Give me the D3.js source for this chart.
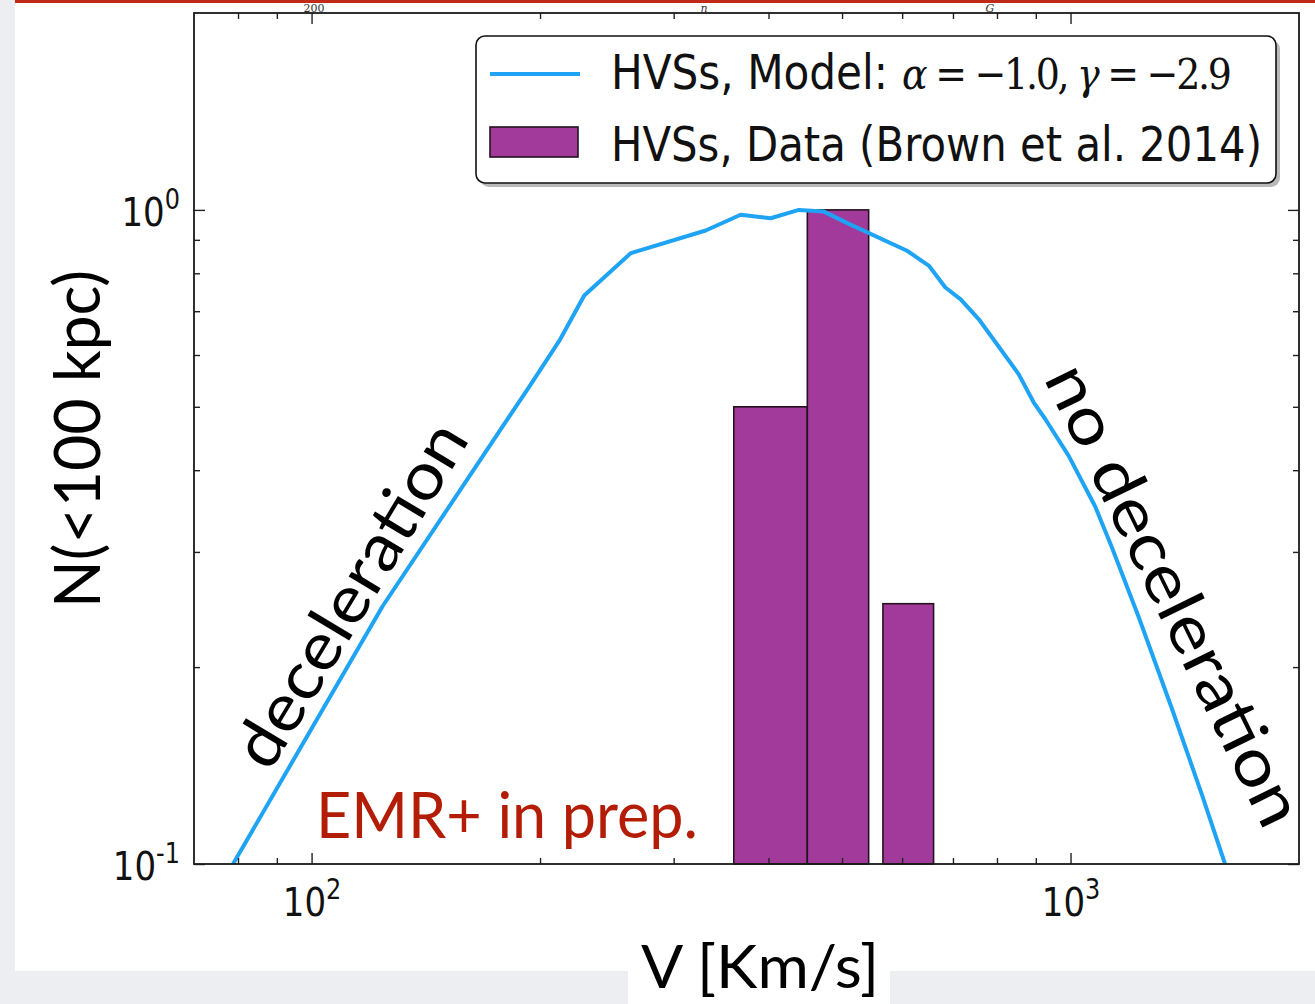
<!DOCTYPE html>
<html>
<head>
<meta charset="utf-8">
<script src="https://cdn.jsdelivr.net/npm/d3@7"></script>
<style>
  html, body { margin: 0; padding: 0; background: #edeef1; }
  svg { display: block; }
</style>
</head>
<body>
<svg id="chart" width="1315" height="1004"></svg>
<script>
// Model curve: cumulative number of HVSs within 100 kpc versus velocity
const modelV = [78.8, 124.1, 193.6, 212.1, 228.7, 263.5, 330.6, 367.6, 402.6, 438.6, 473.2, 510.5,
                609.0, 650.4, 684.1, 716.6, 756.7, 854.4, 894.0, 926.1, 994.0, 1077.7, 1133.5,
                1229, 1359.6, 1488.5, 1598];
const modelN = [0.1, 0.248, 0.537, 0.631, 0.740, 0.859, 0.930, 0.983, 0.971, 1.0, 0.994, 0.952,
                0.866, 0.822, 0.761, 0.730, 0.681, 0.561, 0.508, 0.479, 0.421, 0.352, 0.305,
                0.239, 0.173, 0.128, 0.1];

// Observed histogram (Brown et al. 2014), normalised
const binLo = [360, 450, 566];
const binHi = [450, 542, 660];
const binN  = [0.5, 1.0, 0.25];

// Axis ticks
const xMajorTicks = [100, 1000];
const xMinorTicks = [80, 90, 200, 300, 400, 500, 600, 700, 800, 900];
const yMajorTicks = [0.1, 1];
const yMinorTicks = [0.2, 0.3, 0.4, 0.5, 0.6, 0.7, 0.8, 0.9];

// Text
const legendModel = "HVSs, Model:";
const legendModelMath = [["\u03B1", true], [" = \u22121.0, ", false], ["\u03B3", true], [" = \u22122.9", false]];
const legendData = "HVSs, Data (Brown et al. 2014)";
const xLabel = "V [Km/s]";
const yLabel = "N(<100 kpc)";
const noteLeft = "deceleration";
const noteRight = "no deceleration";
const noteCredit = "EMR+ in prep.";
const edgeLabels = [["200", 314, false], ["n", 704, true], ["G", 990, true]];

const lineColor = "#1fa3f5";
const barColor = "#a23a9c";
const mplFont = "'DejaVu Sans', sans-serif";
const mathFont = "'DejaVu Serif', 'Liberation Serif', serif";
const slideFont = "Lato, 'Open Sans', sans-serif";
const stretch = 1.15;

const svg = d3.select("#chart");
const W = 1315, H = 1004;
const plot = { left: 194, right: 1299, top: 13, bottom: 864 };

// Page background: white figure on a light slide
svg.append("rect").attr("x", 0).attr("y", 0).attr("width", W).attr("height", H).attr("fill", "#edeef1");
svg.append("rect").attr("x", 15).attr("y", 0).attr("width", W - 15).attr("height", 971).attr("fill", "#fff");
svg.append("rect").attr("x", 628).attr("y", 930).attr("width", 262).attr("height", 74).attr("fill", "#fff");

// Remnants of the figure above: red rule and the bottom of its axis labels
const edge = svg.append("g");
edge.append("rect").attr("x", 15).attr("y", 0).attr("width", W - 15).attr("height", 3).attr("fill", "#c02a17");
edge.selectAll("text").data(edgeLabels).join("text")
  .attr("x", d => d[1]).attr("y", 12).attr("text-anchor", "middle")
  .attr("font-family", mathFont).attr("font-style", d => d[2] ? "italic" : "normal")
  .attr("font-size", 11).attr("fill", "#333").text(d => d[0]);

const x = d3.scaleLog().domain([70, 2000]).range([plot.left, plot.right]);
const y = d3.scaleLog().domain([0.1, 2.0]).range([plot.bottom, plot.top]);

svg.append("defs").append("clipPath").attr("id", "plotClip")
  .append("rect").attr("x", plot.left).attr("y", plot.top)
  .attr("width", plot.right - plot.left).attr("height", plot.bottom - plot.top);

// Histogram bars
const bins = binLo.map((lo, i) => ({ lo, hi: binHi[i], n: binN[i] }));
svg.append("g").selectAll("rect").data(bins).join("rect")
  .attr("x", d => x(d.lo))
  .attr("y", d => y(d.n))
  .attr("width", d => x(d.hi) - x(d.lo))
  .attr("height", d => y(0.1) - y(d.n))
  .attr("fill", barColor)
  .attr("stroke", "#24121f")
  .attr("stroke-width", 1.6);

// Model curve
const pts = modelV.map((v, i) => [v, modelN[i]]);
svg.append("path")
  .datum(pts)
  .attr("clip-path", "url(#plotClip)")
  .attr("fill", "none")
  .attr("stroke", lineColor)
  .attr("stroke-width", 4)
  .attr("stroke-linejoin", "round")
  .attr("d", d3.line().x(d => x(d[0])).y(d => y(d[1])));

// Axes: ticks point inward on all four sides
function styleAxis(g) {
  g.select(".domain").remove();
  g.selectAll(".tick line").attr("stroke", "#222").attr("stroke-width", 1.4);
}
function powerLabel(g, exp, anchor, tx, ty) {
  const t = g.append("text")
    .attr("transform", `translate(${tx},${ty}) scale(1,${stretch})`)
    .attr("text-anchor", anchor)
    .attr("font-family", mplFont)
    .attr("font-size", 34)
    .attr("fill", "#111");
  t.append("tspan").text("10");
  t.append("tspan").attr("font-size", 24).attr("dy", -15).text(exp);
}

const gxB = svg.append("g").attr("transform", `translate(0,${plot.bottom})`);
gxB.call(d3.axisBottom(x).tickValues(xMajorTicks).tickSize(-11).tickFormat(() => "")).call(styleAxis);
gxB.selectAll(".tick").each(function (d) {
  powerLabel(d3.select(this), String(Math.round(Math.log10(d))), "middle", 0, 52);
});
svg.append("g").attr("transform", `translate(0,${plot.bottom})`)
  .call(d3.axisBottom(x).tickValues(xMinorTicks).tickSize(-6).tickFormat(() => "")).call(styleAxis);

svg.append("g").attr("transform", `translate(0,${plot.top})`)
  .call(d3.axisTop(x).tickValues(xMajorTicks).tickSize(-11).tickFormat(() => "")).call(styleAxis);
svg.append("g").attr("transform", `translate(0,${plot.top})`)
  .call(d3.axisTop(x).tickValues(xMinorTicks).tickSize(-6).tickFormat(() => "")).call(styleAxis);

const gyL = svg.append("g").attr("transform", `translate(${plot.left},0)`);
gyL.call(d3.axisLeft(y).tickValues(yMajorTicks).tickSize(-11).tickFormat(() => "")).call(styleAxis);
gyL.selectAll(".tick").each(function (d) {
  powerLabel(d3.select(this), String(Math.round(Math.log10(d))), "end", -14, 15.5);
});
svg.append("g").attr("transform", `translate(${plot.left},0)`)
  .call(d3.axisLeft(y).tickValues(yMinorTicks).tickSize(-6).tickFormat(() => "")).call(styleAxis);

svg.append("g").attr("transform", `translate(${plot.right},0)`)
  .call(d3.axisRight(y).tickValues(yMajorTicks).tickSize(-11).tickFormat(() => "")).call(styleAxis);
svg.append("g").attr("transform", `translate(${plot.right},0)`)
  .call(d3.axisRight(y).tickValues(yMinorTicks).tickSize(-6).tickFormat(() => "")).call(styleAxis);

// Plot frame
svg.append("rect")
  .attr("x", plot.left).attr("y", plot.top)
  .attr("width", plot.right - plot.left).attr("height", plot.bottom - plot.top)
  .attr("fill", "none").attr("stroke", "#1a1a1a").attr("stroke-width", 1.8);

// Legend
const leg = svg.append("g");
leg.append("rect").attr("x", 480).attr("y", 40).attr("width", 800).attr("height", 147).attr("rx", 9)
  .attr("fill", "#8a8a8a").attr("opacity", 0.6);
leg.append("rect").attr("x", 476).attr("y", 36).attr("width", 800).attr("height", 147).attr("rx", 9)
  .attr("fill", "#fff").attr("stroke", "#111").attr("stroke-width", 1.6);
leg.append("line").attr("x1", 490).attr("x2", 580).attr("y1", 74).attr("y2", 74)
  .attr("stroke", lineColor).attr("stroke-width", 4);
leg.append("rect").attr("x", 490).attr("y", 127).attr("width", 88).attr("height", 30)
  .attr("fill", barColor).attr("stroke", "#24121f").attr("stroke-width", 1.6);
leg.append("text").attr("transform", `translate(611,89) scale(1,${stretch})`)
  .attr("font-family", mplFont).attr("font-size", 42).attr("fill", "#111")
  .attr("textLength", 277).attr("lengthAdjust", "spacingAndGlyphs")
  .text(legendModel);
const math = leg.append("text").attr("transform", `translate(902,89) scale(1,${stretch})`)
  .attr("font-family", mathFont).attr("font-size", 38).attr("fill", "#111")
  .attr("textLength", 330).attr("lengthAdjust", "spacing");
math.selectAll("tspan").data(legendModelMath).join("tspan")
  .attr("font-style", d => d[1] ? "italic" : "normal")
  .text(d => d[0]);
leg.append("text").attr("transform", `translate(611,161) scale(1,${stretch})`)
  .attr("font-family", mplFont).attr("font-size", 42).attr("fill", "#111")
  .attr("textLength", 651).attr("lengthAdjust", "spacingAndGlyphs")
  .text(legendData);

// Axis titles
svg.append("text").attr("transform", "translate(100,439) rotate(-90)")
  .attr("text-anchor", "middle").attr("font-family", slideFont).attr("font-size", 64).attr("fill", "#000")
  .attr("textLength", 338).attr("lengthAdjust", "spacingAndGlyphs").text(yLabel);
svg.append("text").attr("x", 760).attr("y", 988)
  .attr("text-anchor", "middle").attr("font-family", slideFont).attr("font-size", 60).attr("fill", "#000")
  .attr("textLength", 238).attr("lengthAdjust", "spacingAndGlyphs").text(xLabel);

// Annotations
svg.append("text").attr("transform", "translate(370,606) rotate(-59)")
  .attr("text-anchor", "middle").attr("font-family", slideFont).attr("font-size", 66).attr("fill", "#000")
  .attr("textLength", 390).attr("lengthAdjust", "spacingAndGlyphs").text(noteLeft);
svg.append("text").attr("transform", "translate(1154,605) rotate(64)")
  .attr("text-anchor", "middle").attr("font-family", slideFont).attr("font-size", 66).attr("fill", "#000")
  .attr("textLength", 505).attr("lengthAdjust", "spacingAndGlyphs").text(noteRight);
svg.append("text").attr("x", 316).attr("y", 838)
  .attr("font-family", slideFont).attr("font-size", 64).attr("fill", "#b31d05")
  .attr("textLength", 382).attr("lengthAdjust", "spacingAndGlyphs").text(noteCredit);
</script>
</body>
</html>
